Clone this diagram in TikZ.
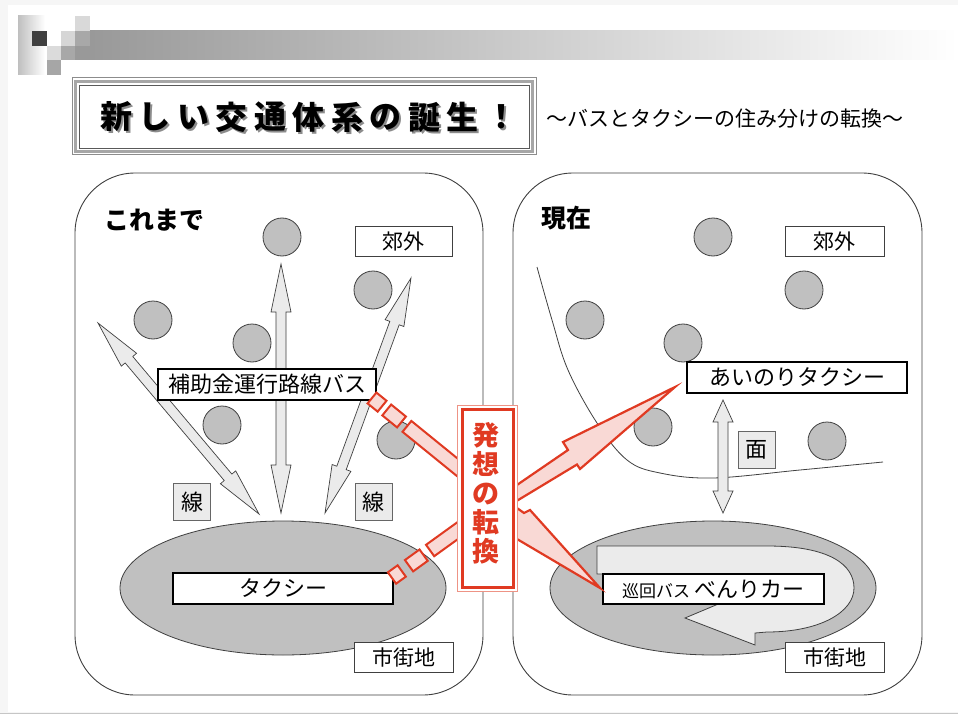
\documentclass[tikz,border=0pt]{standalone}
\usepackage{fontspec}
\setmainfont{Noto Sans CJK JP}
\usetikzlibrary{calc,shapes.geometric}
\definecolor{circfill}{HTML}{C0C0C0}
\definecolor{arrfill}{HTML}{EBEBEB}
\definecolor{redline}{HTML}{E03A22}
\definecolor{pinkfill}{HTML}{F9D9D5}
\definecolor{darkline}{HTML}{404040}
\newcommand{\dblarr}[3]{%
 \pgfpointdiff{\pgfpointanchor{#1}{center}}{\pgfpointanchor{#2}{center}}%
 \pgfgetlastxy{\myDX}{\myDY}%
 \pgfmathsetmacro{\myAng}{atan2(\myDY,\myDX)}%
 \pgfmathsetmacro{\myLen}{veclen(\myDX,\myDY)}%
 \pgfmathsetmacro{\myHb}{\myLen-#3}%
 \begin{scope}[shift={(#1)},rotate=\myAng]
 \draw[grayarrow] (0,0) -- (#3,10) -- (#3,5) -- (\myHb,5) -- (\myHb,10) -- (\myLen,0) -- (\myHb,-10) -- (\myHb,-5) -- (#3,-5) -- (#3,-10) -- cycle;
 \end{scope}}
\newcommand{\shadowch}[1]{\rlap{\kern2pt\raisebox{-2pt}{\color{black!45}#1}}#1}
\begin{document}
\begin{tikzpicture}[x=1pt,y=-1pt,
  circ/.style={circle, draw=darkline, line width=0.8pt, fill=circfill, minimum size=38pt, inner sep=0pt},
  thinbox/.style={draw=darkline, line width=0.8pt, fill=white, inner sep=0pt, minimum height=30pt, font=\fontsize{21}{24}\selectfont},
  thickbox/.style={draw=black, line width=2pt, fill=white, inner sep=0pt, minimum height=31pt, font=\fontsize{22}{25}\selectfont},
  graybox/.style={draw=darkline!80, line width=0.8pt, fill=arrfill, inner sep=0pt, minimum size=37pt, font=\fontsize{22}{25}\selectfont},
  grayarrow/.style={draw=darkline, line width=0.7pt, fill=arrfill, line join=miter},
  redshape/.style={draw=redline, line width=2.2pt, fill=pinkfill, line join=miter},
  panel/.style={draw=darkline, line width=0.9pt, rounded corners=60pt},
  ellfill/.style={ellipse, draw=darkline, line width=0.8pt, fill=circfill, minimum width=326pt, minimum height=134pt, inner sep=0pt},
]
\useasboundingbox (0,0) rectangle (958,714);
% background
\fill[gray!7] (0,0) rectangle (958,714);
\fill[white] (8,5) rectangle (958,712);
\draw[gray!45, line width=1pt] (0,713) -- (958,713);
% header decoration
\shade[left color=black!25, right color=white] (18,16) rectangle (45,75);
\fill[black!75] (32,31) rectangle (47,46);
\fill[black!15] (75,16) rectangle (90,31);
\fill[black!16] (61,31) rectangle (75,46);
\fill[black!34] (75,31) rectangle (90,46);
\fill[black!14] (47,46) rectangle (61,60);
\fill[black!34] (61,46) rectangle (75,60);
\fill[black!35] (47,60) rectangle (61,75);
\fill[black!40] (75,46) rectangle (90,60);
\shade[left color=black!40, right color=white] (90,31) rectangle (958,60);
% title frame
\draw[black!45, line width=1pt] (72,78) rectangle (536,155);
\draw[black!35, line width=2.5pt] (75.5,81.5) rectangle (532.5,151.5);
\draw[black!65, line width=0.8pt, fill=white] (79,85) rectangle (529,148);
\foreach \ch [count=\i from 0] in {新,し,い,交,通,体,系,の,誕,生,！}{
  \node[font=\bfseries\fontsize{32}{34}\selectfont, inner sep=0pt] (t\i) at (116+38.5*\i,118) {\shadowch{\ch}};
}
\node[anchor=west, inner sep=0pt, font=\fontsize{21}{24}\selectfont] (sub) at (546,119) {～バスとタクシーの住み分けの転換～};
% panels
\draw[panel] (75,173) rectangle (483,695);
\draw[panel] (513,173) rectangle (922,695);
\node[anchor=west, inner sep=0pt, font=\bfseries\fontsize{25}{28}\selectfont] (kore) at (104,220) {これまで};
\node[anchor=west, inner sep=0pt, font=\bfseries\fontsize{25}{28}\selectfont] (gen) at (541,218) {現在};
% left panel
\node[ellfill] (ellL) at (283,588) {};
\node[circ] (cl1) at (282,237) {};
\node[circ] (cl2) at (373,290) {};
\node[circ] (cl3) at (153,320) {};
\node[circ] (cl4) at (252,343) {};
\node[circ] (cl5) at (222,425) {};
\node[circ] (cl6) at (396,440) {};
\coordinate (a1s) at (259,514); \coordinate (a1e) at (98,323);
\coordinate (a2s) at (281,513); \coordinate (a2e) at (281,264);
\coordinate (a3s) at (325,513); \coordinate (a3e) at (411,278);
\dblarr{a1s}{a1e}{48}
\dblarr{a2s}{a2e}{48}
\dblarr{a3s}{a3e}{48}
\node[thinbox, minimum width=97pt] (kougaiL) at (403.5,241) {郊外};
\node[thinbox, minimum width=99pt] (shigaiL) at (403.5,657) {市街地};
\node[graybox] (sen1) at (192,502) {線};
\node[graybox] (sen2) at (373.5,502) {線};
\node[thickbox, minimum width=218pt] (hojo) at (267,384.5) {補助金運行路線バス};
\node[thickbox, minimum width=220pt] (taxi) at (283,588.5) {タクシー};
% right panel
\node[ellfill] (ellR) at (713,588) {};
\draw[darkline, line width=0.8pt] plot[smooth, tension=0.6] coordinates {(537,267) (552,320) (568,370) (597,423) (627,460) (660,473) (713,478) (800,470) (883,462)};
\node[circ] (cr1) at (713,237) {};
\node[circ] (cr2) at (804,290) {};
\node[circ] (cr3) at (585,320) {};
\node[circ] (cr4) at (683,343) {};
\node[circ] (cr5) at (653,427) {};
\node[circ] (cr6) at (827,441) {};
\node[thinbox, minimum width=99pt] (kougaiR) at (834.5,241) {郊外};
\node[thinbox, minimum width=99pt] (shigaiR) at (834.5,657) {市街地};
\coordinate (a4s) at (723,400); \coordinate (a4e) at (723,513);
\dblarr{a4s}{a4e}{22}
\node[graybox] (men) at (756.5,450) {面};
\node[thickbox, minimum width=220pt] (ainori) at (797,377.5) {あいのりタクシー};
\draw[grayarrow, line width=0.8pt] (597,546) -- (767,546) .. controls (830,546) and (854,565) .. (854,588) .. controls (854,612) and (820,632) .. (767,632) -- (755,633) -- (755,645) -- (685,618) -- (735,597) -- (790,597) .. controls (800,597) and (800,574) .. (790,574) -- (597,574) -- cycle;
\node[thickbox, minimum width=221pt, minimum height=30pt] (benri) at (713.5,589) {{\fontsize{17}{20}\selectfont 巡回バス} べんりカー};
% red connectors
\begin{scope}[shift={(372,398)},rotate=-39.1]
  \draw[redshape, line width=2pt] (0,-7) rectangle (13,7);
  \draw[redshape, line width=2pt] (19,-7) rectangle (38,7);
  \draw[redshape, line width=2pt] (45,-7) rectangle (120,7);
\end{scope}
\begin{scope}[shift={(392,578)},rotate=35.8]
  \draw[redshape, line width=2pt] (0,-7) rectangle (12,7);
  \draw[redshape, line width=2pt] (21,-7) rectangle (39,7);
  \draw[redshape, line width=2pt] (47,-7) rectangle (100,7);
\end{scope}
\draw[redshape] (500,496.6) -- (568,450) -- (563,442) -- (675,387) -- (580,469) -- (577,464.5) -- (500,511) -- cycle;
\draw[redshape] (500,496) -- (524,513) -- (530,510) -- (600,588) -- (500,529) -- cycle;
\draw[redline!55, line width=1pt, fill=white] (457,405) rectangle (517,591);
\node[draw=redline, line width=3pt, fill=white, minimum width=51pt, minimum height=178pt, inner sep=0pt] (hassou) at (487.5,498) {};
\node[text=redline, font=\bfseries\fontsize{27}{29}\selectfont, align=center, inner sep=0pt] (hassoutxt) at (486,493) {発\\想\\の\\転\\換};
\end{tikzpicture}
\end{document}
